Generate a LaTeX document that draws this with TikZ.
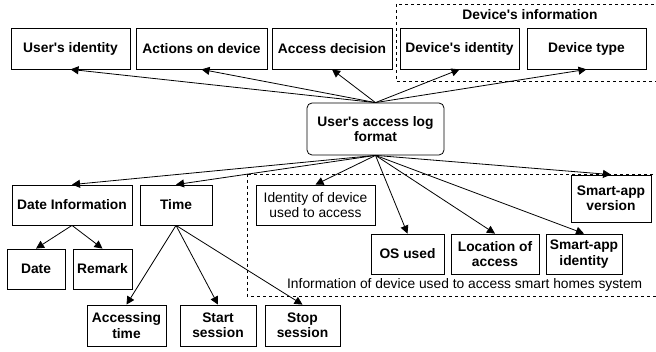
\documentclass[tikz,border=0pt]{standalone}
\usepackage{fontspec}
\setmainfont{Liberation Sans}
\usepackage{tikz}
\usetikzlibrary{arrows.meta, calc, positioning}

\begin{document}
\begin{tikzpicture}[x=1pt, y=-1pt, arro/.style = {-{Triangle[length=8pt, width=8pt]}}, line width=0.8pt]

\tikzstyle{format} = [draw, line width=0.8pt, bold, align=center, inner sep=2pt]
\tikzset{bold/.style = {font=\fontsize{13.8}{15.5}\selectfont\bfseries},
         plain/.style = {font=\fontsize{13.8}{15.5}\selectfont},
         group/.style = {draw, dashed, line width=0.8pt}}

\useasboundingbox (0,0) rectangle (656,352);

% groups
\draw[group] (396,4) rectangle (658,81);
\draw[group] (247,174) rectangle (658,296);
\node[bold] at (530,15) (devinfo) {Device\textquotesingle s information};
\node[plain, anchor=east] at (646,285) (usedinfo) {Information of device used to access smart homes system};

% centre
\node[format, rounded corners=5pt, minimum width=137, minimum height=52] at (375.5,129) (log) {User\textquotesingle s access log\\format};

% top row
\node[format, minimum width=119, minimum height=41] at (70.5,48.5) (uid) {User\textquotesingle s identity};
\node[format, minimum width=131, minimum height=41] at (201.5,48.5) (act) {Actions on device};
\node[format, minimum width=120, minimum height=41] at (332,48.5) (dec) {Access decision};
\node[format, minimum width=119, minimum height=41] at (459.5,48.5) (did) {Device\textquotesingle s identity};
\node[format, minimum width=119, minimum height=41] at (586.5,48.5) (dtype) {Device type};
% connections
\draw[arro] (log.north) -- (uid.south);
\draw[arro] (log.north) -- (act.south);
\draw[arro] (log.north) -- (dec.south);
\draw[arro] (log.north) -- (did.south);
\draw[arro] (log.north) -- (dtype.south);

% second row
\node[format, minimum width=120, minimum height=40] at (72,205) (dinfo) {Date Information};
\node[format, minimum width=72, minimum height=40] at (176,205) (time) {Time};
\node[format, plain, minimum width=119, minimum height=40] at (315.5,205) (iddev) {Identity of device\\used to access};
\node[format, minimum width=80, minimum height=47] at (611,198.5) (ver) {Smart-app\\version};
\node[format, minimum width=73, minimum height=40] at (407.5,254) (os) {OS used};
\node[format, minimum width=88, minimum height=40] at (495,254) (loc) {Location of\\access};
\node[format, minimum width=76, minimum height=40] at (584,254) (sid) {Smart-app\\identity};
% connections
\draw[arro] (log.south) -- (dinfo.north);
\draw[arro] (log.south) -- (time.north);
\draw[arro] (log.south) -- (iddev.north);
\draw[arro] (log.south) -- (os.north);
\draw[arro] (log.south) -- (loc.north);
\draw[arro] (log.south) -- (sid.north);
\draw[arro] (log.south) -- (ver.north);

% date
\node[format, minimum width=58, minimum height=40] at (36,269) (date) {Date};
\node[format, minimum width=59, minimum height=40] at (102.5,269) (remark) {Remark};
% connections
\draw[arro] (dinfo.south) -- (date.north);
\draw[arro] (dinfo.south) -- (remark.north);

% time
\node[format, minimum width=79, minimum height=41] at (126.5,325.5) (acc) {Accessing\\time};
\node[format, minimum width=76, minimum height=41] at (218,325.5) (start) {Start\\session};
\node[format, minimum width=75, minimum height=41] at (302.5,325.5) (stop) {Stop\\session};
% connections
\draw[arro] (time.south) -- (acc.north);
\draw[arro] (time.south) -- (start.north);
\draw[arro] (time.south) -- (stop.north);
\end{tikzpicture}
\end{document}
